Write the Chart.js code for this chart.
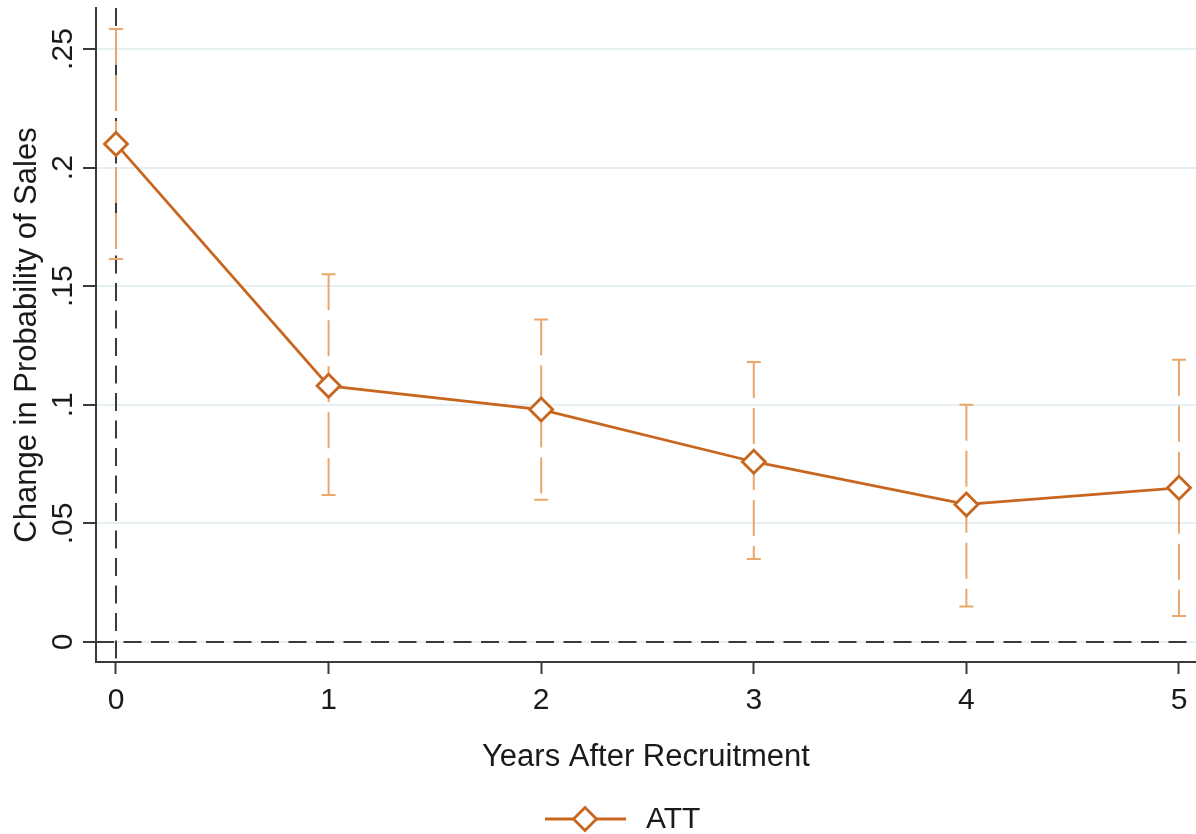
<!DOCTYPE html>
<html>
<head>
<meta charset="utf-8">
<script src="https://cdn.jsdelivr.net/npm/chart.js@4.4.1/dist/chart.umd.min.js"></script>
<style>
  html, body { margin: 0; padding: 0; background: #ffffff; }
  #wrap { width: 1196px; height: 834px; position: relative; }
</style>
</head>
<body>
<div id="wrap"><canvas id="chart"></canvas></div>
<script>
// Years after recruitment and the estimated effect with its confidence interval
const years = [0, 1, 2, 3, 4, 5];
const att = [0.210, 0.108, 0.098, 0.076, 0.058, 0.065];
const ciLow = [0.1615, 0.062, 0.060, 0.035, 0.015, 0.011];
const ciHigh = [0.2584, 0.155, 0.136, 0.118, 0.100, 0.119];

const yTickValues = [0, 0.05, 0.1, 0.15, 0.2, 0.25];
const yTickLabels = ['0', '.05', '.1', '.15', '.2', '.25'];
const xTickValues = [0, 1, 2, 3, 4, 5];

const FONT = '"Liberation Sans", Arial, sans-serif';
const LINE_COLOR = '#c8661f';
const CI_COLOR = '#eba66a';
const AXIS_COLOR = '#3a3a3a';
const GRID_COLOR = '#e6eff1';
const TEXT_COLOR = '#1a1a1a';

// Dashed reference lines at x = 0 and y = 0, then the capped confidence intervals
const intervalPlugin = {
  id: 'intervals',
  beforeDatasetsDraw(chart) {
    const { ctx, chartArea, scales } = chart;
    const xs = scales.x, ys = scales.y;
    ctx.save();
    ctx.beginPath();
    ctx.rect(chartArea.left, chartArea.top - 2, chartArea.right - chartArea.left, chartArea.bottom - chartArea.top + 2);
    ctx.clip();

    ctx.strokeStyle = AXIS_COLOR;
    ctx.lineWidth = 2;
    ctx.setLineDash([18, 9.5]);
    const y0 = ys.getPixelForValue(0);
    ctx.beginPath();
    ctx.moveTo(chartArea.left, y0);
    ctx.lineTo(chartArea.right, y0);
    ctx.stroke();
    const x0 = xs.getPixelForValue(0);
    ctx.beginPath();
    ctx.moveTo(x0, chartArea.top);
    ctx.lineTo(x0, chartArea.bottom);
    ctx.stroke();

    ctx.strokeStyle = CI_COLOR;
    ctx.lineWidth = 2;
    const capHalf = 7;
    years.forEach((yr, i) => {
      const px = xs.getPixelForValue(yr);
      const hi = ys.getPixelForValue(ciHigh[i]);
      const lo = ys.getPixelForValue(ciLow[i]);
      ctx.setLineDash([36, 10]);
      ctx.beginPath();
      ctx.moveTo(px, hi);
      ctx.lineTo(px, lo);
      ctx.stroke();
      ctx.setLineDash([]);
      ctx.beginPath();
      ctx.moveTo(px - capHalf, hi);
      ctx.lineTo(px + capHalf, hi);
      ctx.moveTo(px - capHalf, lo);
      ctx.lineTo(px + capHalf, lo);
      ctx.stroke();
    });
    ctx.restore();
  },
  afterDraw(chart) {
    const { ctx, scales } = chart;
    const ys = scales.y;
    // Rotated y tick labels
    ctx.save();
    ctx.fillStyle = TEXT_COLOR;
    ctx.font = '30px ' + FONT;
    ctx.textAlign = 'center';
    ctx.textBaseline = 'alphabetic';
    const baseX = ys.right - 13 - 11;
    yTickValues.forEach((v, i) => {
      const py = ys.getPixelForValue(v);
      ctx.save();
      ctx.translate(baseX, py);
      ctx.rotate(-Math.PI / 2);
      ctx.fillText(yTickLabels[i], 0, 0);
      ctx.restore();
    });
    ctx.restore();

    // Legend: line sample with a hollow diamond, then the series name
    const ds = chart.data.datasets[0];
    const cy = chart.height - 15;
    const cx = chart.width / 2 - 13;
    ctx.save();
    ctx.strokeStyle = LINE_COLOR;
    ctx.lineWidth = 2.8;
    ctx.beginPath();
    ctx.moveTo(cx - 40, cy);
    ctx.lineTo(cx + 41, cy);
    ctx.stroke();
    const r = 11.5;
    ctx.beginPath();
    ctx.moveTo(cx, cy - r);
    ctx.lineTo(cx + r, cy);
    ctx.lineTo(cx, cy + r);
    ctx.lineTo(cx - r, cy);
    ctx.closePath();
    ctx.fillStyle = '#ffffff';
    ctx.fill();
    ctx.stroke();
    ctx.fillStyle = TEXT_COLOR;
    ctx.font = '30px ' + FONT;
    ctx.textAlign = 'left';
    ctx.textBaseline = 'middle';
    ctx.fillText(ds.label, cx + 61, cy + 1);
    ctx.restore();
  }
};

new Chart(document.getElementById('chart'), {
  type: 'line',
  data: {
    datasets: [{
      label: 'ATT',
      data: years.map((x, i) => ({ x: x, y: att[i] })),
      borderColor: LINE_COLOR,
      borderWidth: 2.8,
      pointStyle: 'rectRot',
      pointRadius: 11.5,
      pointHoverRadius: 11.5,
      pointBorderWidth: 2.8,
      pointBackgroundColor: '#ffffff',
      pointBorderColor: LINE_COLOR,
      tension: 0,
      fill: false,
      clip: false
    }]
  },
  options: {
    responsive: true,
    maintainAspectRatio: false,
    animation: false,
    events: [],
    layout: { autoPadding: false, padding: { top: 8, right: 0, bottom: 52, left: 0 } },
    plugins: {
      legend: { display: false },
      tooltip: { enabled: false }
    },
    scales: {
      x: {
        type: 'linear',
        min: -0.094,
        max: 5.08,
        afterBuildTicks(scale) { scale.ticks = xTickValues.map(v => ({ value: v })); },
        afterFit(scale) {
          scale.height = 120;
          scale.paddingLeft = 0;
          scale.paddingRight = 0;
        },
        ticks: {
          color: TEXT_COLOR,
          font: { family: FONT, size: 30 },
          padding: 9,
          maxRotation: 0,
          autoSkip: false
        },
        grid: {
          display: true,
          drawOnChartArea: false,
          drawTicks: true,
          tickLength: 12,
          tickColor: AXIS_COLOR,
          tickWidth: 2
        },
        border: { display: true, color: AXIS_COLOR, width: 2 },
        title: {
          display: true,
          text: 'Years After Recruitment',
          color: TEXT_COLOR,
          font: { family: FONT, size: 31 },
          padding: { top: 0, bottom: 6 }
        }
      },
      y: {
        type: 'linear',
        min: -0.00843,
        max: 0.2673,
        afterBuildTicks(scale) { scale.ticks = yTickValues.map(v => ({ value: v })); },
        afterFit(scale) {
          scale.width = 96;
          scale.paddingTop = 0;
          scale.paddingBottom = 0;
        },
        ticks: { display: false },
        grid: {
          display: true,
          drawOnChartArea: true,
          color: GRID_COLOR,
          lineWidth: 2,
          drawTicks: true,
          tickLength: 13,
          tickColor: AXIS_COLOR,
          tickWidth: 2
        },
        border: { display: true, color: AXIS_COLOR, width: 2 },
        title: {
          display: true,
          text: 'Change in Probability of Sales',
          color: TEXT_COLOR,
          font: { family: FONT, size: 31 },
          padding: { top: 9, bottom: 0 }
        }
      }
    }
  },
  plugins: [intervalPlugin]
});
</script>
</body>
</html>
